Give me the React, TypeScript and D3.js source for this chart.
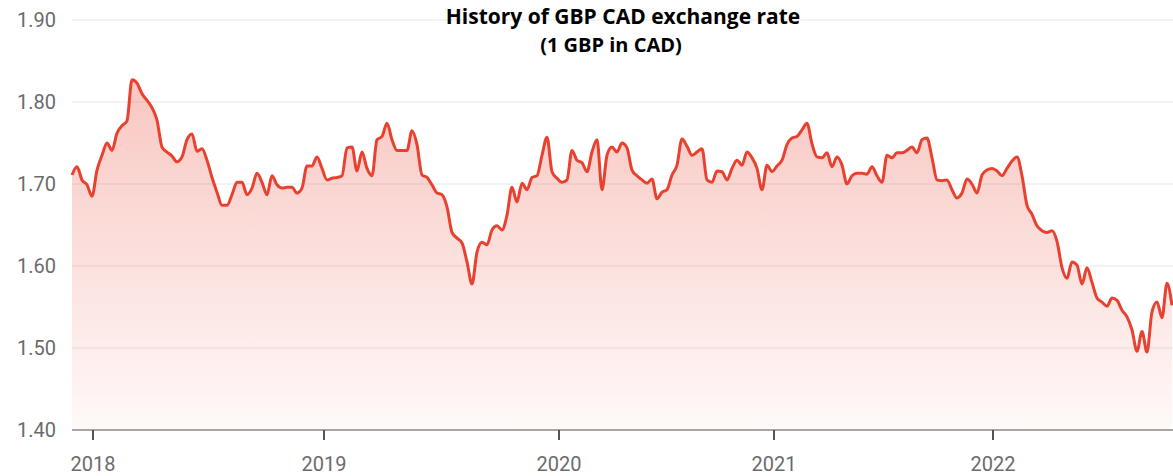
import * as d3 from 'd3';

// weekly-ish samples of 1 GBP in CAD
const rates = [
  1.711, 1.721, 1.705, 1.699, 1.685, 1.717, 1.735, 1.750, 1.741, 1.762,
  1.771, 1.777, 1.827, 1.823, 1.810, 1.802, 1.793, 1.778, 1.745, 1.739,
  1.734, 1.727, 1.733, 1.754, 1.761, 1.740, 1.743, 1.729, 1.708, 1.690,
  1.674, 1.674, 1.687, 1.702, 1.702, 1.687, 1.695, 1.713, 1.702, 1.687,
  1.710, 1.699, 1.695, 1.696, 1.696, 1.689, 1.695, 1.722, 1.722, 1.733,
  1.719, 1.705, 1.707, 1.708, 1.710, 1.744, 1.745, 1.716, 1.739, 1.719,
  1.710, 1.754, 1.758, 1.774, 1.754, 1.741, 1.741, 1.741, 1.765, 1.748,
  1.711, 1.708, 1.699, 1.689, 1.687, 1.672, 1.641, 1.634, 1.628, 1.605,
  1.578, 1.617, 1.629, 1.626, 1.644, 1.649, 1.644, 1.662, 1.696, 1.678,
  1.701, 1.693, 1.708, 1.710, 1.735, 1.757, 1.715, 1.707, 1.702, 1.705,
  1.741, 1.729, 1.726, 1.715, 1.739, 1.754, 1.693, 1.735, 1.745, 1.739,
  1.750, 1.744, 1.717, 1.710, 1.705, 1.701, 1.706, 1.682, 1.690, 1.693,
  1.711, 1.723, 1.755, 1.746, 1.735, 1.739, 1.743, 1.705, 1.702, 1.716,
  1.715, 1.705, 1.719, 1.729, 1.723, 1.739, 1.732, 1.719, 1.693, 1.723,
  1.715, 1.722, 1.729, 1.748, 1.756, 1.758, 1.766, 1.774, 1.749, 1.733,
  1.732, 1.738, 1.721, 1.733, 1.723, 1.700, 1.710, 1.713, 1.713, 1.712,
  1.721, 1.710, 1.702, 1.735, 1.732, 1.738, 1.738, 1.741, 1.745, 1.738,
  1.754, 1.756, 1.732, 1.705, 1.704, 1.705, 1.693, 1.683, 1.689, 1.706,
  1.700, 1.689, 1.711, 1.717, 1.719, 1.716, 1.710, 1.719, 1.728, 1.733,
  1.710, 1.674, 1.663, 1.649, 1.643, 1.641, 1.643, 1.630, 1.598, 1.585,
  1.605, 1.601, 1.578, 1.598, 1.580, 1.561, 1.556, 1.551, 1.561, 1.558,
  1.546, 1.538, 1.522, 1.496, 1.520, 1.495, 1.544, 1.556, 1.537, 1.579,
  1.552,
];

const yearLabels = ['2018', '2019', '2020', '2021', '2022'];
// position of Jan 1st of each year, in sample index units
const yearTickIndex = [4.2, 50.4, 97.4, 140.4, 184.2];
const yTicks = [1.4, 1.5, 1.6, 1.7, 1.8, 1.9];

const WIDTH = 1173;
const HEIGHT = 476;
const MARGIN = { top: 20, right: 1, bottom: 46, left: 72 };
const RED = '#e8412f';
const AXIS_FONT = 'Roboto, sans-serif';
const TITLE_FONT = '"Open Sans", sans-serif';

export default function App() {
  const x = d3.scaleLinear().domain([0, rates.length - 1]).range([MARGIN.left, WIDTH - MARGIN.right]);
  const y = d3.scaleLinear().domain([1.4, 1.9]).range([HEIGHT - MARGIN.bottom, MARGIN.top]);

  const line = d3.line<number>().x((_, i) => x(i)).y(d => y(d)).curve(d3.curveMonotoneX);
  const area = d3.area<number>().x((_, i) => x(i)).y0(y(1.4)).y1(d => y(d)).curve(d3.curveMonotoneX);

  return (
    <div>
      <style>{'body{margin:0}'}</style>
      <svg width={WIDTH} height={HEIGHT} style={{ display: 'block', background: '#fff' }}>
        <defs>
          <linearGradient id="fillGrad" gradientUnits="userSpaceOnUse" x1="0" x2="0" y1={y(1.83)} y2={y(1.4)}>
            <stop offset="0%" stopColor={RED} stopOpacity={0.3} />
            <stop offset="100%" stopColor={RED} stopOpacity={0.03} />
          </linearGradient>
        </defs>

        {/* grid */}
        {yTicks.slice(1).map(t => (
          <line key={t} x1={MARGIN.left} x2={WIDTH} y1={y(t)} y2={y(t)} stroke="#efefef" strokeWidth={1.5} />
        ))}

        {/* y labels */}
        {yTicks.map(t => (
          <text key={t} x={56} y={y(t)} dy="0.35em" textAnchor="end" fontFamily={AXIS_FONT} fontSize={20} fill="#6b6b6b">
            {t.toFixed(2)}
          </text>
        ))}

        <path d={area(rates) ?? ''} fill="url(#fillGrad)" />
        <path d={line(rates) ?? ''} fill="none" stroke={RED} strokeWidth={3} strokeLinejoin="round" />

        {/* x axis */}
        <line x1={MARGIN.left} x2={WIDTH} y1={y(1.4)} y2={y(1.4)} stroke="#a6a6a6" strokeWidth={2} />
        {yearTickIndex.map((ti, i) => (
          <g key={yearLabels[i]}>
            <line x1={x(ti)} x2={x(ti)} y1={y(1.4)} y2={y(1.4) + 10} stroke="#555" strokeWidth={2} />
            <text x={x(ti)} y={471} textAnchor="middle" fontFamily={AXIS_FONT} fontSize={20} fill="#6b6b6b">
              {yearLabels[i]}
            </text>
          </g>
        ))}

        {/* title */}
        <text x={623} y={24} textAnchor="middle" fontFamily={TITLE_FONT} fontWeight={700} fontSize={21} fill="#000">
          History of GBP CAD exchange rate
        </text>
        <text x={611} y={52} textAnchor="middle" fontFamily={TITLE_FONT} fontWeight={700} fontSize={20} fill="#000">
          (1 GBP in CAD)
        </text>
      </svg>
    </div>
  );
}
